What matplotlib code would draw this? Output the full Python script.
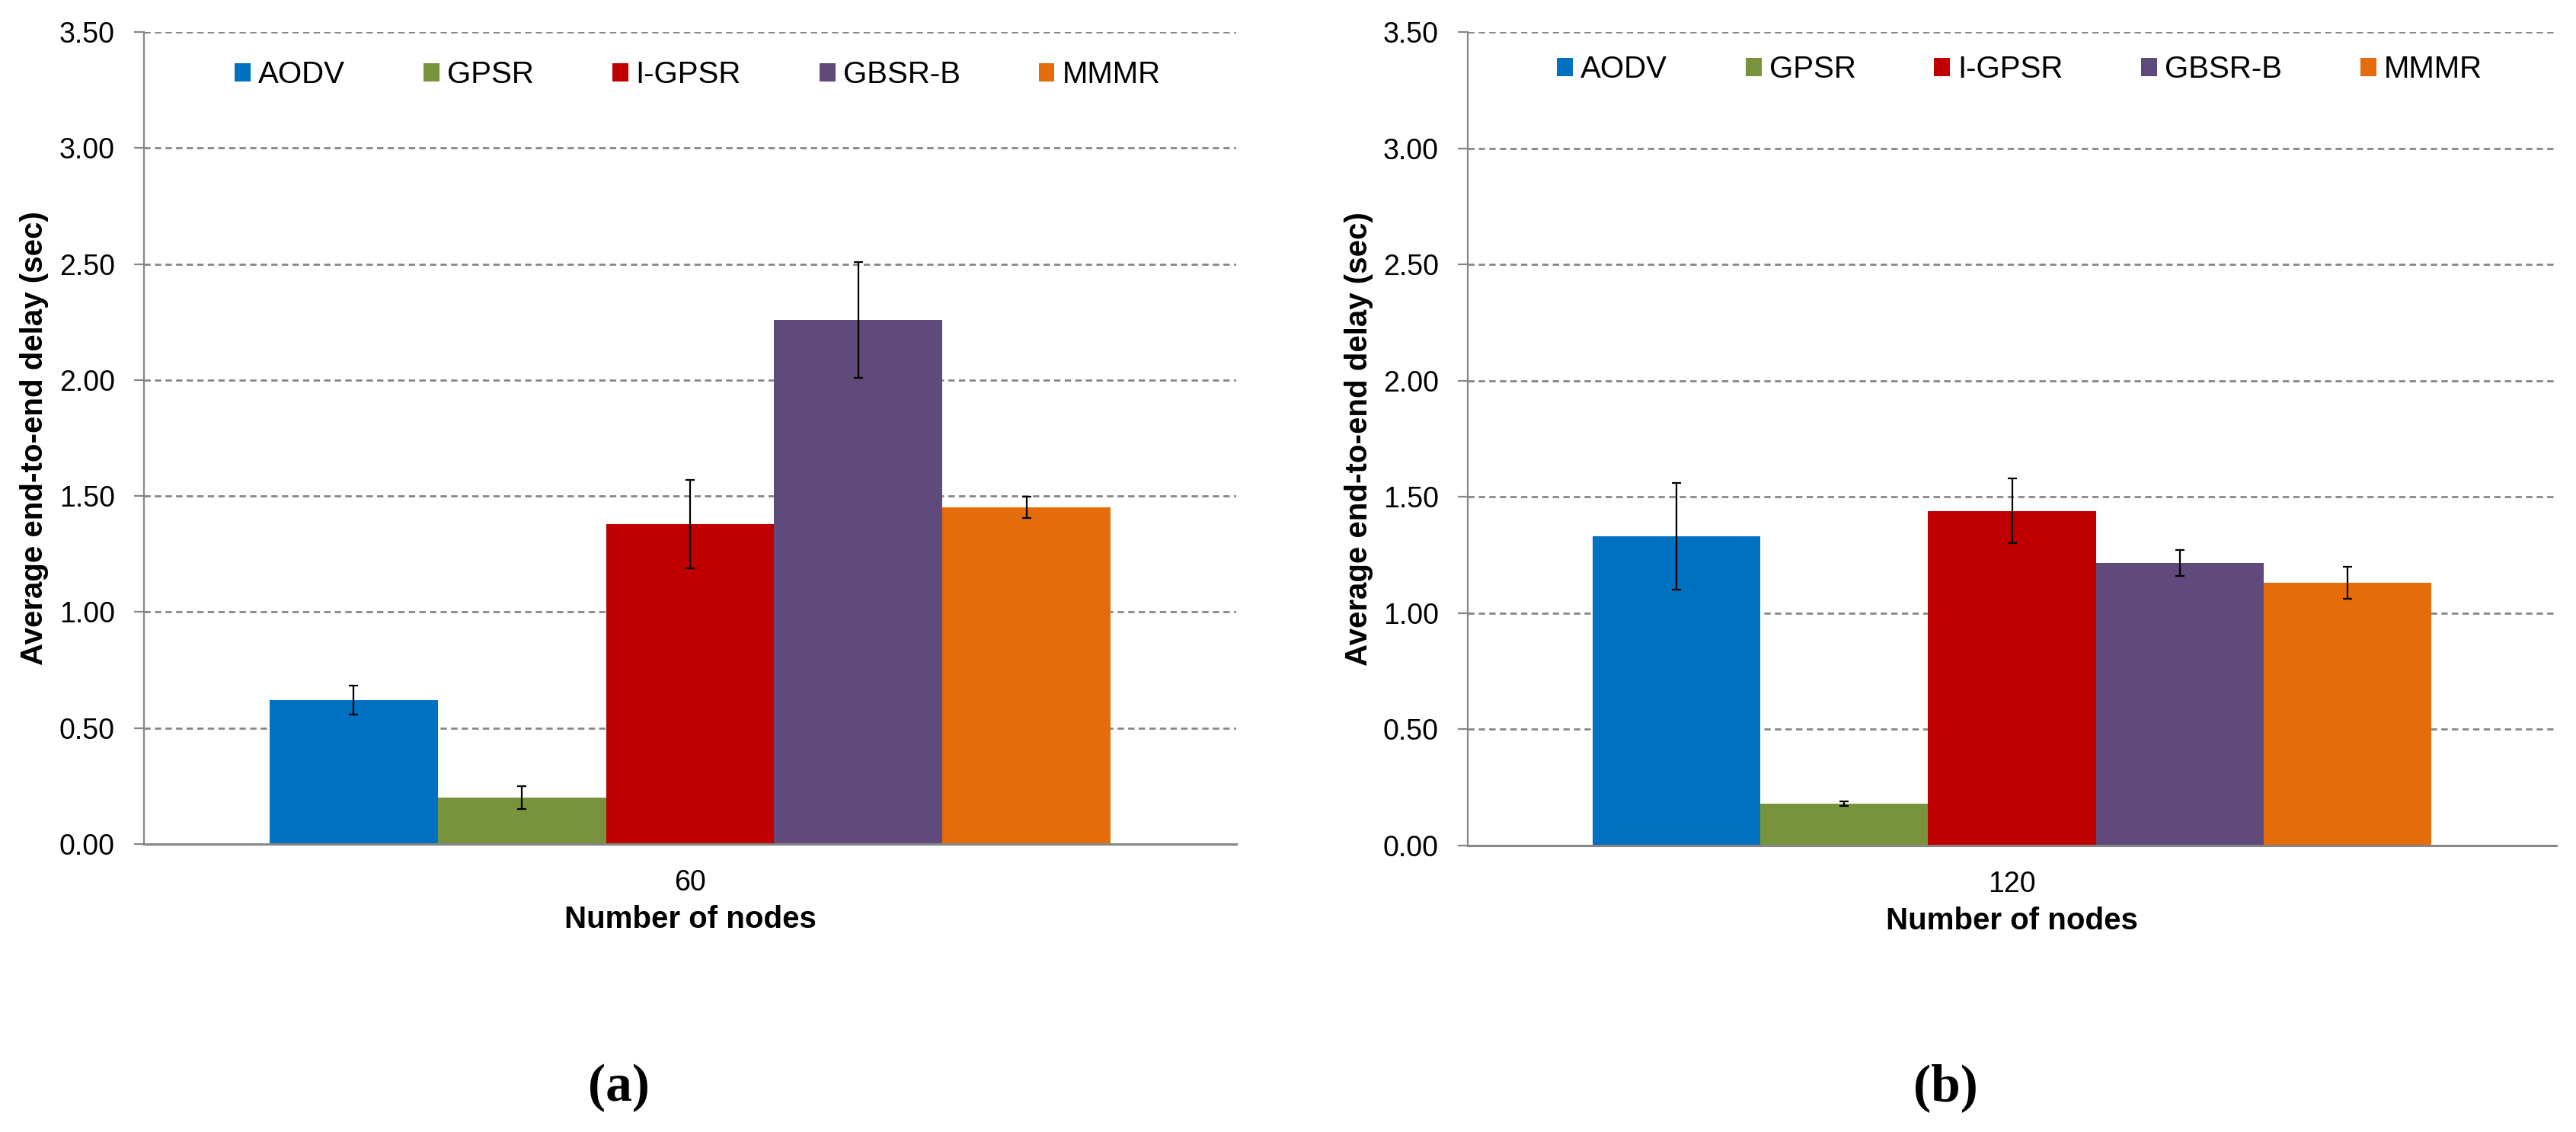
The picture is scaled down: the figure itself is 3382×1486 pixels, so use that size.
import matplotlib
matplotlib.use("Agg")
import matplotlib.pyplot as plt
import numpy as np

plt.rcParams['font.family'] = ['Liberation Sans', 'DejaVu Sans']

# data
protocols = ['AODV', 'GPSR', 'I-GPSR', 'GBSR-B', 'MMMR']
colors = ['#0070C0', '#77933C', '#C00000', '#604A7B', '#E46C0A']
nodes = ['60', '120']
delay_60 = [0.62, 0.20, 1.38, 2.26, 1.45]
err_60 = [0.063, 0.05, 0.19, 0.25, 0.046]
delay_120 = [1.33, 0.18, 1.44, 1.215, 1.13]
err_120 = [0.23, 0.011, 0.14, 0.055, 0.068]
yticks = [0.0, 0.5, 1.0, 1.5, 2.0, 2.5, 3.0, 3.5]
panel_labels = ['(a)', '(b)']

W, H = 3382, 1486
fig = plt.figure(figsize=(W / 100, H / 100), dpi=100)

# axes boxes in pixels: left, right, top, bottom
boxes = [(189, 1623, 42, 1108), (1927, 3356, 42, 1110)]
legend_y = [0.947, 0.954]
label_x = [812, 2554]

grey = '#868686'
bw = 0.154

for i, (vals, errs) in enumerate([(delay_60, err_60), (delay_120, err_120)]):
    l, r, t, b = boxes[i]
    ax = fig.add_axes([l / W, (H - b) / H, (r - l) / W, (b - t) / H])
    offs = (np.arange(len(protocols)) - 2) * bw
    for j, p in enumerate(protocols):
        ax.bar(offs[j], vals[j], width=bw, color=colors[j], label=p, zorder=3)
        ax.errorbar(offs[j], vals[j], yerr=errs[j], fmt='none', ecolor='black',
                    elinewidth=1.6, capsize=4, capthick=1.6, zorder=4)
    ax.set_xlim(-0.5, 0.5)
    ax.set_ylim(0, 3.5)
    ax.set_yticks(yticks)
    ax.set_yticklabels(['%.2f' % v for v in yticks])
    ax.set_xticks([0])
    ax.set_xticklabels([nodes[i]])
    ax.tick_params(axis='y', length=9.5, width=1.6, color=grey, pad=18, labelsize=27)
    ax.tick_params(axis='x', length=0, pad=24, labelsize=27)
    ax.yaxis.grid(True, color=grey, linewidth=2.0, linestyle=(0, (3, 2)), zorder=0)
    ax.set_axisbelow(True)
    for s in ['top', 'right']:
        ax.spines[s].set_visible(False)
    ax.spines['left'].set_color(grey)
    ax.spines['left'].set_linewidth(1.6)
    ax.spines['bottom'].set_color(grey)
    ax.spines['bottom'].set_linewidth(2.2)
    ax.spines['bottom'].set_zorder(5)
    ax.set_ylabel('Average end-to-end delay (sec)', fontsize=29, fontweight='bold')
    ax.yaxis.set_label_coords(-0.087, 0.5)
    ax.set_xlabel('Number of nodes', fontsize=29, fontweight='bold')
    ax.xaxis.set_label_coords(0.5, -0.075)
    ax.legend(loc='center', bbox_to_anchor=(0.507, legend_y[i]), ncol=5, frameon=False,
              fontsize=29, handlelength=0.52, handleheight=0.52, handletextpad=0.25,
              columnspacing=2.55, borderpad=0)
    fig.text(label_x[i] / W, (H - 1428) / H, panel_labels[i], ha='center', va='center',
             fontsize=50, fontweight='bold', family='Liberation Serif')

fig.savefig('out.png', dpi=100)
